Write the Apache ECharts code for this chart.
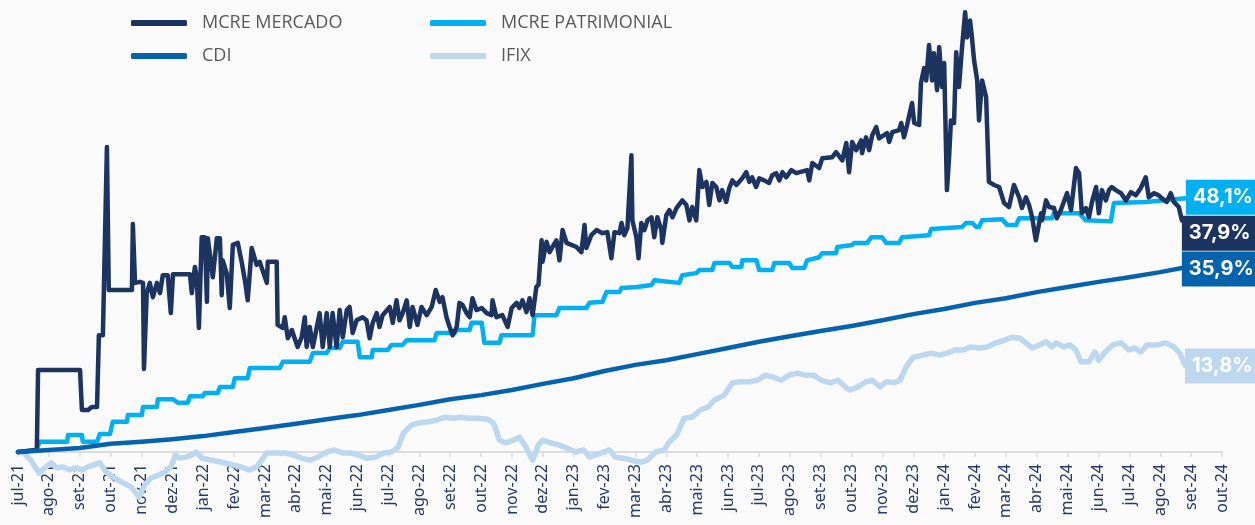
<!DOCTYPE html>
<html>
<head>
<meta charset="utf-8">
<script src="https://cdn.jsdelivr.net/npm/echarts@6/dist/echarts.min.js"></script>
<style>
  html, body { margin: 0; padding: 0; background: #fafafa; }
  #chartBox { width: 1255px; height: 525px; }
</style>
</head>
<body>
<div id="chartBox"></div>
<script>
// eixo x: um rótulo por mês (valor = índice do mês, a partir de jul-21)
const months = ['jul-21', 'ago-21', 'set-21', 'out-21', 'nov-21', 'dez-21', 'jan-22', 'fev-22', 'mar-22', 'abr-22',
  'mai-22', 'jun-22', 'jul-22', 'ago-22', 'set-22', 'out-22', 'nov-22', 'dez-22', 'jan-23', 'fev-23',
  'mar-23', 'abr-23', 'mai-23', 'jun-23', 'jul-23', 'ago-23', 'set-23', 'out-23', 'nov-23', 'dez-23',
  'jan-24', 'fev-24', 'mar-24', 'abr-24', 'mai-24', 'jun-24', 'jul-24', 'ago-24', 'set-24', 'out-24']

const seriesNames = ['MCRE MERCADO', 'MCRE PATRIMONIAL', 'CDI', 'IFIX']
const finalReturn = ['37,9%', '48,1%', '35,9%', '13,8%']

// [mês, retorno acumulado %]
const mercado = [[0,0],[0.61,0.4],[0.65,16.0],[2.01,16.0],[2.07,8.2],[2.27,8.2],[2.39,8.8],[2.56,8.8],[2.62,22.8],[2.75,22.8],[2.88,59.5],[2.94,31.6],[3.69,31.6],[3.72,44.5],[3.79,33.0],[3.95,33.2],[4.05,33.0],[4.08,16.2],[4.17,31.0],[4.27,33.0],[4.37,30.2],[4.50,33.0],[4.60,31.0],[4.69,34.5],[4.85,34.5],[4.95,27.1],[5.02,34.7],[5.57,34.7],[5.63,31.0],[5.73,36.1],[5.79,34.1],[5.86,24.2],[5.95,41.9],[6.05,41.9],[6.12,29.3],[6.15,41.7],[6.31,34.1],[6.44,41.7],[6.54,41.7],[6.60,30.6],[6.63,37.4],[6.76,34.9],[6.86,28.1],[6.96,40.4],[7.12,40.8],[7.25,36.9],[7.35,33.5],[7.44,29.6],[7.57,39.8],[7.73,36.5],[7.83,37.1],[8.06,33.0],[8.09,37.1],[8.38,37.1],[8.41,24.8],[8.58,24.2],[8.64,26.3],[8.74,22.2],[8.87,23.8],[8.96,22.2],[9.06,20.5],[9.19,22.4],[9.29,26.3],[9.35,20.5],[9.45,24.4],[9.55,20.5],[9.68,24.4],[9.77,27.1],[9.87,20.5],[10.00,27.1],[10.10,20.5],[10.19,27.1],[10.32,20.5],[10.42,27.7],[10.52,22.4],[10.65,27.7],[10.74,28.3],[10.84,23.2],[10.97,25.7],[11.16,26.3],[11.29,25.7],[11.39,22.2],[11.49,25.2],[11.62,27.1],[11.71,24.4],[11.81,26.7],[12.04,28.3],[12.14,25.2],[12.26,29.6],[12.36,25.7],[12.46,27.1],[12.59,29.6],[12.69,24.4],[12.78,28.3],[12.94,24.8],[13.07,28.3],[13.24,26.7],[13.40,28.3],[13.53,31.6],[13.66,29.3],[13.75,30.2],[13.88,26.3],[13.98,24.4],[14.08,22.8],[14.21,24.4],[14.30,29.1],[14.40,28.7],[14.53,27.1],[14.63,26.3],[14.72,30.0],[14.85,27.7],[15.02,28.1],[15.18,27.1],[15.34,26.7],[15.37,29.6],[15.50,26.3],[15.69,26.7],[15.86,24.4],[15.99,28.1],[16.15,29.1],[16.24,28.1],[16.34,29.6],[16.47,27.3],[16.57,30.0],[16.67,26.7],[16.79,32.2],[16.86,32.6],[16.96,41.3],[16.99,37.1],[17.12,41.0],[17.22,39.0],[17.31,40.0],[17.44,41.3],[17.54,37.4],[17.64,43.3],[17.77,40.8],[18.09,40.0],[18.25,39.0],[18.35,44.3],[18.41,39.8],[18.57,42.3],[18.74,43.3],[18.93,42.7],[19.09,42.9],[19.22,37.8],[19.32,42.9],[19.48,42.7],[19.55,44.7],[19.64,42.3],[19.74,43.7],[19.87,57.9],[19.90,45.2],[20.03,41.9],[20.10,37.8],[20.19,44.7],[20.29,43.3],[20.39,45.2],[20.52,45.8],[20.61,41.9],[20.71,45.8],[20.84,43.3],[20.87,40.8],[21.00,46.2],[21.10,47.2],[21.20,45.8],[21.33,47.6],[21.52,49.1],[21.65,48.2],[21.75,45.2],[21.84,47.8],[21.97,45.2],[22.07,55.0],[22.17,51.7],[22.30,52.7],[22.39,48.2],[22.49,52.5],[22.62,51.7],[22.72,49.1],[22.81,51.1],[22.94,48.8],[23.04,51.5],[23.14,53.0],[23.27,52.1],[23.46,53.4],[23.59,54.6],[23.69,52.7],[23.78,53.6],[23.91,51.7],[24.01,53.4],[24.17,53.0],[24.33,52.5],[24.43,54.0],[24.56,54.4],[24.66,53.0],[24.76,54.6],[24.88,53.6],[25.05,55.0],[25.21,54.4],[25.56,55.0],[25.63,53.0],[25.73,56.4],[25.95,55.4],[26.05,57.3],[26.37,57.5],[26.50,58.5],[26.70,56.9],[26.83,60.3],[26.92,54.6],[27.02,60.5],[27.15,58.9],[27.31,60.8],[27.34,58.3],[27.47,61.4],[27.57,58.9],[27.67,61.8],[27.80,63.4],[27.89,61.2],[28.15,62.2],[28.22,60.5],[28.32,62.4],[28.54,62.8],[28.61,64.2],[28.70,61.4],[28.80,63.8],[28.96,68.1],[29.03,64.2],[29.19,63.8],[29.25,72.0],[29.35,74.9],[29.42,72.5],[29.51,79.4],[29.61,72.5],[29.67,77.8],[29.77,70.6],[29.84,79.0],[29.93,71.2],[30.00,75.9],[30.09,51.1],[30.16,57.5],[30.22,64.7],[30.32,64.2],[30.39,78.0],[30.48,71.2],[30.58,79.0],[30.68,85.8],[30.74,80.9],[30.84,84.2],[30.90,80.9],[30.97,76.4],[31.07,72.5],[31.13,64.7],[31.23,72.5],[31.36,69.2],[31.45,52.7],[31.62,52.1],[31.78,51.7],[31.94,48.6],[32.10,47.8],[32.26,52.1],[32.43,49.7],[32.52,47.6],[32.65,49.7],[32.75,48.2],[32.85,45.8],[32.97,41.3],[33.14,46.6],[33.17,45.2],[33.30,49.1],[33.40,47.8],[33.56,47.6],[33.65,45.6],[33.78,47.2],[33.98,50.5],[34.11,47.2],[34.27,55.4],[34.37,54.4],[34.46,46.6],[34.59,47.6],[34.69,45.8],[34.79,48.8],[34.92,51.7],[35.01,46.6],[35.11,51.1],[35.24,49.1],[35.34,51.1],[35.43,51.7],[35.56,51.1],[35.73,50.5],[35.89,49.1],[36.05,50.7],[36.21,50.1],[36.37,51.5],[36.53,53.6],[36.63,49.7],[36.79,50.5],[36.95,50.1],[37.05,49.5],[37.21,48.8],[37.34,50.5],[37.44,48.8],[37.60,47.8],[37.70,45.2]]

const patrimonial = [[0,0],[0.58,0.4],[0.71,2.0],[1.59,2.0],[1.62,3.3],[2.07,3.3],[2.10,2.0],[2.56,2.0],[2.65,3.5],[2.98,3.5],[3.07,5.9],[3.53,5.9],[3.56,7.2],[4.01,7.2],[4.05,8.8],[4.50,8.8],[4.53,10.3],[5.02,10.3],[5.18,9.6],[5.50,9.6],[5.57,10.9],[5.99,10.9],[6.05,11.5],[6.47,11.5],[6.54,12.7],[6.96,12.7],[7.02,14.4],[7.44,14.4],[7.51,16.4],[8.48,16.4],[8.58,17.6],[9.45,17.6],[9.55,19.3],[10.00,19.3],[10.10,20.3],[10.42,20.3],[10.52,21.5],[11.00,21.5],[11.07,18.5],[11.46,18.5],[11.49,19.9],[11.97,19.9],[12.10,20.9],[12.46,20.9],[12.59,21.8],[13.49,21.8],[13.56,23.2],[14.14,23.2],[14.21,23.8],[14.63,23.8],[14.69,25.2],[15.02,25.2],[15.11,21.3],[15.60,21.3],[15.66,22.8],[16.67,22.8],[16.73,26.7],[17.44,26.7],[17.54,28.1],[18.41,28.1],[18.51,29.1],[18.93,29.3],[19.06,31.2],[19.48,31.2],[19.55,32.0],[20.06,32.2],[20.52,32.6],[20.61,33.5],[21.42,33.0],[21.52,34.5],[21.97,34.9],[22.07,35.5],[22.49,35.5],[22.56,36.9],[23.04,36.9],[23.14,36.1],[23.43,36.1],[23.46,37.4],[23.92,37.4],[24.01,35.5],[24.43,35.5],[24.50,36.9],[24.98,36.9],[25.08,35.9],[25.47,35.9],[25.56,37.4],[25.95,38.0],[26.05,38.8],[26.50,38.8],[26.54,40.0],[27.02,40.4],[27.09,40.8],[27.51,40.8],[27.64,41.9],[27.99,41.9],[28.12,40.8],[28.54,40.8],[28.64,41.9],[29.51,42.3],[29.58,43.5],[30.58,43.9],[30.71,44.7],[30.91,44.7],[31.04,43.9],[31.13,43.9],[31.23,45.2],[31.88,45.4],[32.04,44.3],[32.33,44.3],[32.43,45.6],[33.49,45.6],[33.56,46.6],[34.37,46.6],[34.59,45.2],[35.40,45.0],[35.50,48.6],[36.53,48.8],[37.83,49.5]]

const cdi = [[0,0],[1,0.4],[2,0.8],[3,1.6],[4,2.0],[5,2.5],[6,3.1],[7,3.9],[8,4.7],[9,5.5],[10,6.4],[11,7.2],[12,8.2],[13,9.2],[14,10.3],[15,11.1],[16,12.1],[17,13.3],[18,14.4],[19,15.8],[20,17.0],[21,17.9],[22,19.1],[23,20.3],[24,21.5],[25,22.6],[26,23.6],[27,24.6],[28,25.7],[29,26.9],[30,27.9],[31,29.1],[32,30.0],[33,31.2],[34,32.2],[35,33.2],[36,34.1],[37,35.1],[37.7,35.9]]

const ifix = [[0,0],[0.19,-0.2],[0.42,-1.6],[0.68,-4.1],[0.87,-3.1],[1.07,-2.1],[1.26,-3.1],[1.46,-2.9],[1.65,-3.5],[1.88,-3.1],[2.07,-3.5],[2.27,-2.9],[2.46,-2.5],[2.65,-2.1],[2.85,-3.9],[3.24,-5.5],[3.66,-6.8],[3.92,-8.8],[4.11,-6.4],[4.30,-5.1],[4.56,-4.5],[4.76,-3.9],[4.95,-2.9],[5.11,-0.6],[5.24,-1.2],[5.44,-1.0],[5.63,-0.6],[5.76,0.0],[5.95,-1.2],[6.28,-1.6],[6.60,-2.0],[6.96,-2.5],[7.22,-2.9],[7.48,-3.5],[7.73,-2.9],[8.06,-0.2],[8.41,-0.2],[8.67,-0.2],[8.93,-0.6],[9.19,-1.2],[9.45,-1.6],[9.71,-1.0],[10.00,0.0],[10.26,0.4],[10.52,-0.2],[10.78,-0.2],[11.03,-0.6],[11.29,-1.2],[11.58,-1.0],[11.84,-0.2],[12.10,0.0],[12.30,0.8],[12.49,3.7],[12.75,5.3],[13.01,5.7],[13.30,5.9],[13.56,6.2],[13.82,6.8],[14.08,6.6],[14.34,6.8],[14.59,6.6],[14.89,6.6],[15.21,6.4],[15.40,5.7],[15.60,2.3],[15.79,1.8],[16.05,2.3],[16.24,2.9],[16.47,0.8],[16.67,-1.6],[16.86,1.4],[16.99,2.3],[17.25,1.8],[17.51,1.4],[17.77,0.8],[18.06,0.0],[18.32,0.4],[18.51,-1.0],[18.70,-0.6],[18.96,0.0],[19.16,0.4],[19.35,-1.0],[19.61,-1.2],[19.87,-1.6],[20.19,-2.0],[20.39,-1.6],[20.65,0.0],[20.94,0.4],[21.07,1.8],[21.33,3.3],[21.58,6.6],[21.84,6.8],[22.10,8.2],[22.36,8.8],[22.55,10.1],[22.88,11.1],[23.14,13.5],[23.40,13.7],[23.69,13.7],[23.95,14.0],[24.21,15.0],[24.46,14.6],[24.72,14.0],[24.98,15.0],[25.24,15.4],[25.50,15.0],[25.76,15.0],[26.02,14.0],[26.31,13.5],[26.57,14.0],[26.83,12.5],[26.96,12.1],[27.21,12.7],[27.47,13.7],[27.67,14.0],[27.93,12.7],[28.12,13.7],[28.38,13.5],[28.57,14.0],[28.77,16.6],[29.00,18.5],[29.32,18.9],[29.58,19.3],[29.84,18.9],[30.09,19.3],[30.35,19.9],[30.61,19.9],[30.87,20.5],[31.13,20.3],[31.39,20.5],[31.68,21.3],[31.94,21.8],[32.20,22.4],[32.46,22.2],[32.72,20.9],[32.85,20.3],[33.10,20.9],[33.30,21.5],[33.49,20.5],[33.62,21.3],[33.88,20.5],[34.08,20.9],[34.27,19.9],[34.43,17.6],[34.69,17.6],[34.88,19.5],[35.01,17.9],[35.21,19.5],[35.47,20.9],[35.73,21.3],[35.98,19.9],[36.18,20.3],[36.37,19.5],[36.57,20.9],[36.89,20.9],[37.18,21.3],[37.44,20.5],[37.63,19.3],[37.80,17.0]]

const colors = ['#1d3461', '#00b0f0', '#0563ae', '#bdd7ee']

const initChart = () => {
  const dom = document.getElementById('chartBox')
  const chart = echarts.init(dom, null, { renderer: 'canvas' })

  const lineSeries = (idx, data, z, offsetY) => ({
    name: seriesNames[idx],
    type: 'line',
    data: data,
    z: z,
    clip: false, // o IFIX fica abaixo de zero, passando sobre os rótulos
    showSymbol: false,
    symbol: 'none',
    lineStyle: { color: colors[idx], width: idx === 3 ? 5.5 : 4.5, cap: 'round', join: 'round' },
    itemStyle: { color: colors[idx] },
    endLabel: {
      show: true,
      formatter: () => finalReturn[idx],
      color: '#ffffff',
      fontFamily: 'Inter',
      fontWeight: 'bold',
      fontSize: 20,
      backgroundColor: colors[idx],
      padding: [8, 5, 7, 7],
      distance: 0,
      offset: [0, offsetY]
    }
  })

  const legendBase = {
    orient: 'vertical',
    top: 8,
    itemWidth: 56,
    itemHeight: 6,
    itemGap: 13,
    icon: 'roundRect',
    textStyle: { color: '#595959', fontFamily: 'Open Sans', fontSize: 18, lineHeight: 20, padding: [0, 0, 0, 10] }
  }

  var option = {
    backgroundColor: '#fafafa',
    animation: false,
    legend: [
      Object.assign({}, legendBase, { left: 126, data: ['MCRE MERCADO', 'CDI'] }),
      Object.assign({}, legendBase, { left: 425, data: ['MCRE PATRIMONIAL', 'IFIX'] })
    ],
    // v6: não deixar os rótulos do eixo encolherem o grid
    grid: { left: 18, right: 33, top: 1, bottom: 73, containLabel: false, outerBoundsMode: 'none' },
    xAxis: {
      type: 'value',
      min: 0,
      max: months.length - 1,
      interval: 1,
      splitLine: { show: false },
      axisLine: { lineStyle: { color: '#dcdcdc', width: 2 } },
      axisTick: { show: true, length: 5, lineStyle: { color: '#dcdcdc', width: 1.5 } },
      axisLabel: {
        rotate: 90,
        margin: 12,
        color: '#26386b',
        fontFamily: 'Noto Sans',
        fontSize: 16,
        formatter: (v) => months[v]
      }
    },
    yAxis: {
      type: 'value',
      show: false,
      min: 0,
      max: 88
    },
    series: [
      lineSeries(3, ifix, 2, 1),
      lineSeries(1, patrimonial, 3, -1),
      lineSeries(0, mercado, 4, 13),
      lineSeries(2, cdi, 5, 1)
    ]
  }
  chart.setOption(option)
}

initChart()
</script>
</body>
</html>
